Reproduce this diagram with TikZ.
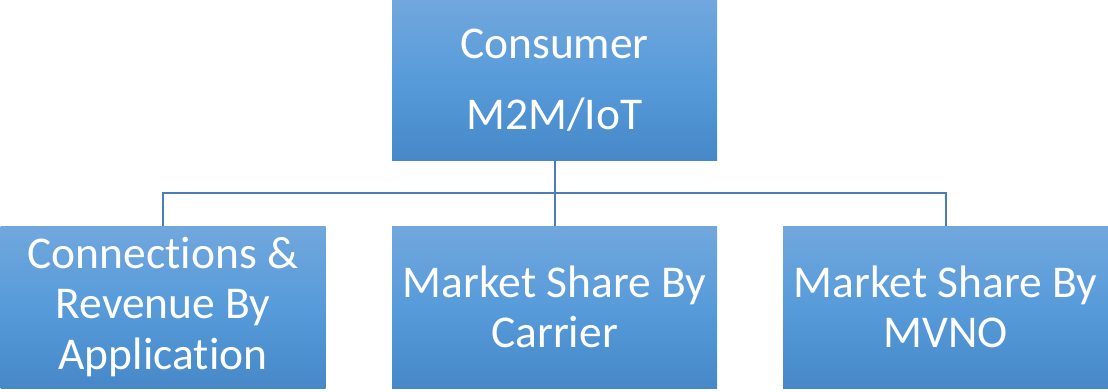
\documentclass[tikz,border=0pt]{standalone}
\usepackage{fontspec}
\setmainfont{Carlito}[Ligatures=NoCommon]
\definecolor{boxtop}{HTML}{71A7DD}
\definecolor{boxmid}{HTML}{579BDA}
\definecolor{boxbot}{HTML}{4688C8}
\definecolor{linec}{HTML}{4A7EB4}
\begin{document}
\begin{tikzpicture}[x=1pt,y=-1pt,
  box/.style={rectangle, inner sep=0pt, minimum width=325pt, minimum height=160pt,
    top color=boxtop, bottom color=boxbot, middle color=boxmid,
    text=white, align=center, font=\fontsize{45.5}{50.5}\selectfont},
  lowbox/.style={box, minimum height=162pt},
  conn/.style={draw=linec, line width=2pt}]
\useasboundingbox (0,0) rectangle (1108,391);
\node[box] (top) at (554.5,80) {Consumer\\[20pt]M2M/IoT};
\node[lowbox] (l) at (163,307) {Connections \&\\Revenue By\\Application};
\node[lowbox] (m) at (554.5,307) {Market Share By\\Carrier};
\node[lowbox] (r) at (945.5,307) {Market Share By\\MVNO};
\coordinate (bus) at (554.5,193);
\draw[conn] (top.south) -- (bus);
\draw[conn] (bus) -| (l.north);
\draw[conn] (bus) -- (m.north);
\draw[conn] (bus) -| (r.north);
\end{tikzpicture}
\end{document}
